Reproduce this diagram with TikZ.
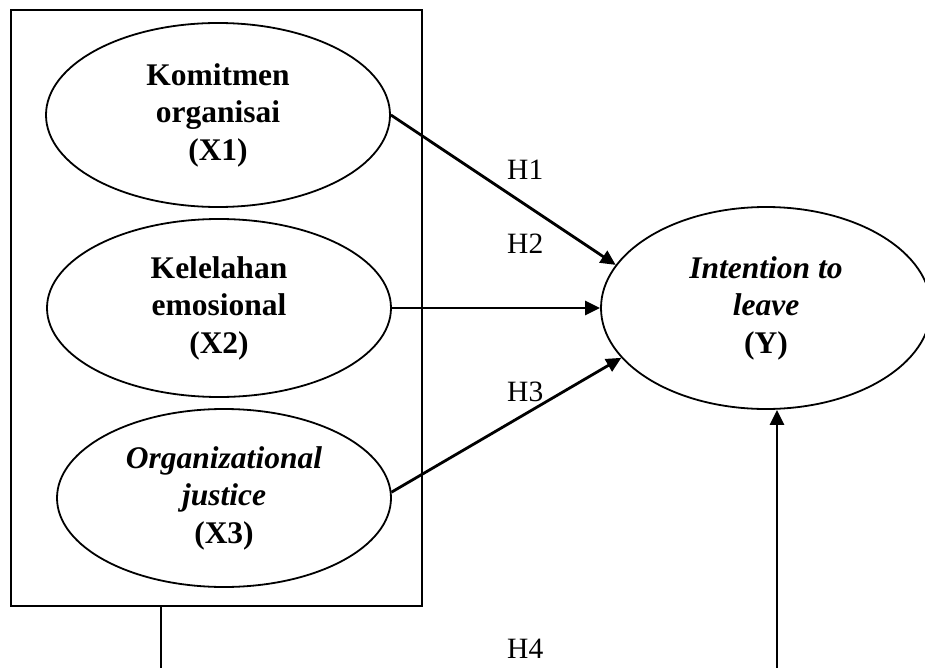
\documentclass[tikz,border=0pt]{standalone}
\usepackage{fontspec}
\setmainfont{Liberation Serif}
\usetikzlibrary{arrows.meta,shapes.geometric}
\tikzset{
  var/.style={draw, ellipse, line width=1.8pt, inner sep=0pt, align=center,
    font=\fontsize{31.5}{37.5}\selectfont\bfseries},
  arr/.style={line width=2.8pt, -{Triangle[length=15pt,width=14pt]}},
  thin/.style={line width=1.8pt},
  hlab/.style={anchor=base west, inner sep=0pt, font=\fontsize{29.5}{33}\selectfont}
}
\begin{document}
\begin{tikzpicture}[x=1pt,y=-1pt]
\useasboundingbox (0,0) rectangle (925,668);
\clip (0,0) rectangle (925,668);
\node[draw, thin, minimum width=411pt, minimum height=596pt, inner sep=0pt, anchor=north west] (box) at (10,9) {};
\node[var, minimum width=344pt, minimum height=184pt] (X1) at (218,115) {Komitmen\\organisai\\(X1)};
\node[var, minimum width=344pt, minimum height=178pt] (X2) at (219,308) {Kelelahan\\emosional\\(X2)};
\node[var, minimum width=334pt, minimum height=178pt] (X3) at (224,498) {\textit{Organizational}\\\textit{justice}\\(X3)};
\node[var, minimum width=330pt, minimum height=202pt] (Y) at (766,308) {\textit{Intention to}\\\textit{leave}\\(Y)};
\draw[arr] (X1.east) -- (Y.164);
\draw[arr] (X2.east) -- (Y.west);
\draw[arr] (X3.2) -- (Y.199);
\coordinate (b1) at (161,690);
\coordinate (b2) at (777,690);
\draw[thin] (box.south -| b1) -- (b1);
\draw[arr] (b2) -- (b2 |- Y.south);
\node[hlab] (h1) at (507,180) {H1};
\node[hlab] (h2) at (507,253) {H2};
\node[hlab] (h3) at (507,401) {H3};
\node[hlab] (h4) at (507,658) {H4};
\end{tikzpicture}
\end{document}
